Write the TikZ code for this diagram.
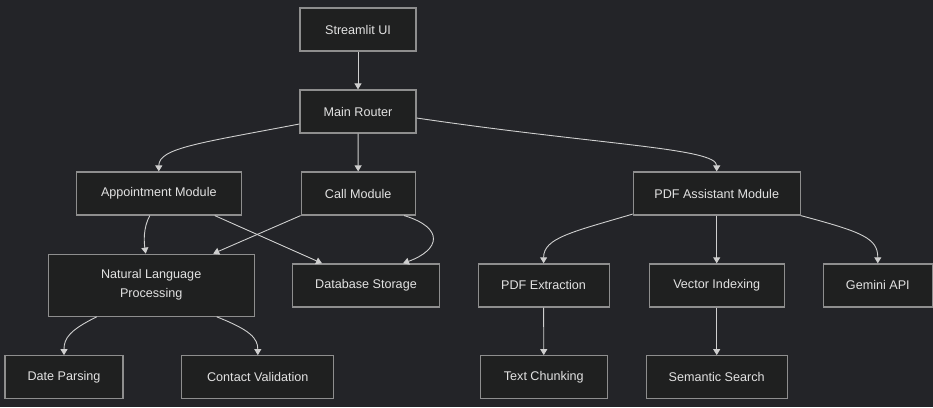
\documentclass[tikz,border=0pt]{standalone}
\usepackage{fontspec}
\setmainfont{Liberation Sans}
\usetikzlibrary{arrows.meta}
\definecolor{bgc}{HTML}{232428}
\definecolor{nodefill}{HTML}{1F2020}
\definecolor{bordc}{HTML}{8E8E8E}
\definecolor{txtc}{HTML}{E2E2E2}
\definecolor{linec}{HTML}{CFCFCF}
\tikzset{
  box/.style={draw=bordc, fill=nodefill, line width=1.2pt, minimum height=43pt, inner sep=0pt,
    align=center, text=txtc, font=\fontsize{12.6}{19}\selectfont},
  edge/.style={draw=linec, line width=0.9pt, -{Triangle[width=7pt,length=6pt]}}
}
\begin{document}
\begin{tikzpicture}[x=1pt,y=-1pt]
\fill[bgc] (0,0) rectangle (933,407);
\useasboundingbox (0,0) rectangle (933,407);
\node[box, minimum width=116pt] (ui) at (358,29.5) {Streamlit UI};
\node[box, minimum width=116pt] (rt) at (358,111.5) {Main Router};
\node[box, minimum width=165pt] (ap) at (158.8,193.5) {Appointment Module};
\node[box, minimum width=114pt] (cm) at (358.2,193.5) {Call Module};
\node[box, minimum width=167pt] (pa) at (716.7,193.5) {PDF Assistant Module};
\node[box, minimum width=206pt, minimum height=62pt] (nlp) at (151.2,285.2) {Natural Language\\Processing};
\node[box, minimum width=147pt] (db) at (366,285.4) {Database Storage};
\node[box, minimum width=131pt] (pe) at (543.6,285.4) {PDF Extraction};
\node[box, minimum width=135pt] (vi) at (716.7,285.4) {Vector Indexing};
\node[box, minimum width=109pt] (ga) at (877.8,285.4) {Gemini API};
\node[box, minimum width=118pt] (dp) at (64,377.2) {Date Parsing};
\node[box, minimum width=152pt] (cv) at (257.8,377.2) {Contact Validation};
\node[box, minimum width=127pt] (tc) at (543.8,377.2) {Text Chunking};
\node[box, minimum width=141pt] (ss) at (716.7,377.2) {Semantic Search};

\draw[edge] (ui) -- (rt);
\draw[edge] (rt) -- (cm);
\draw[edge] ([yshift=-12.5pt]rt.west) .. controls (200,143) and (158.8,148) .. (ap.north);
\draw[edge] ([yshift=-6.5pt]rt.east) .. controls (600,145) and (716.7,148) .. (pa.north);
\draw[edge] ([xshift=-9pt]ap.south) .. controls (143,228) and (144,242) .. ([xshift=-5.5pt]nlp.north);
\draw[edge] ([xshift=56pt]ap.south) -- ([xshift=-44pt]db.north);
\draw[edge] (cm.south west) -- ([xshift=62pt]nlp.north);
\draw[edge] ([xshift=46pt]cm.south) .. controls (445,228) and (440,250) .. ([xshift=37pt]db.north);
\draw[edge] ([yshift=1.5pt]pa.south west) .. controls (572,232) and (543.6,238) .. (pe.north);
\draw[edge] (pa) -- (vi);
\draw[edge] (pa.south east) .. controls (862,232) and (877.8,238) .. (ga.north);
\draw[edge] (pe) -- (tc);
\draw[edge] (vi) -- (ss);
\draw[edge] ([xshift=-54.5pt]nlp.south) .. controls (70,330) and (64,338) .. (dp.north);
\draw[edge] ([xshift=65.5pt]nlp.south) .. controls (250,330) and (257.8,338) .. (cv.north);
\end{tikzpicture}
\end{document}
